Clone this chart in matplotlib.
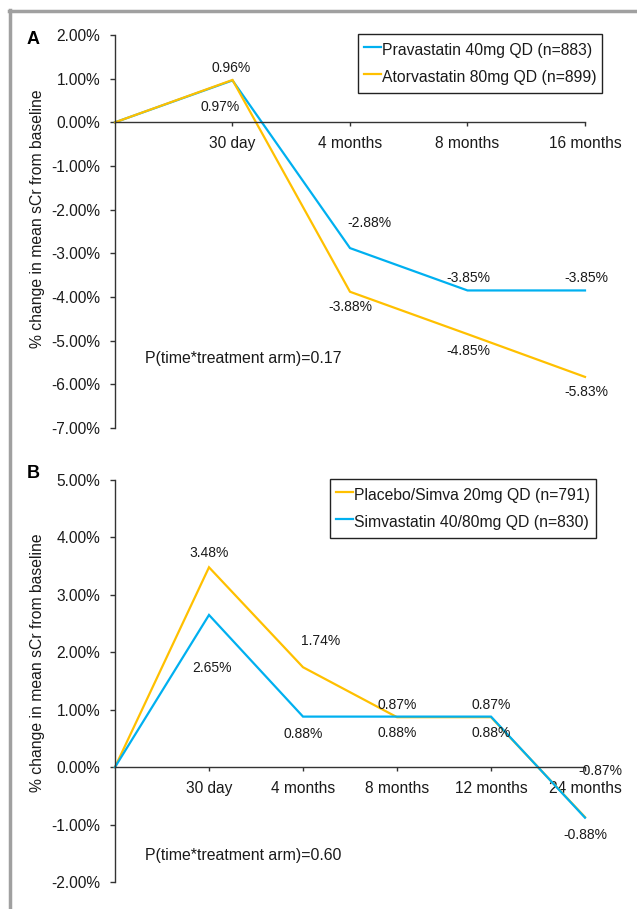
import matplotlib
matplotlib.use("Agg")
import matplotlib.pyplot as plt
from matplotlib.lines import Line2D
from matplotlib.ticker import FuncFormatter

plt.rcParams['font.family'] = ['Liberation Sans', 'DejaVu Sans']

# ---- data -------------------------------------------------------------
a_times = ["", "30 day", "4 months", "8 months", "16 months"]
a_prava = [0.0, 0.96, -2.88, -3.85, -3.85]
a_atorva = [0.0, 0.97, -3.88, -4.85, -5.83]
a_names = ["Pravastatin 40mg QD (n=883)", "Atorvastatin 80mg QD (n=899)"]
a_pvalue = "P(time*treatment arm)=0.17"

b_times = ["", "30 day", "4 months", "8 months", "12 months", "24 months"]
b_placebo = [0.0, 3.48, 1.74, 0.87, 0.87, -0.87]
b_simva = [0.0, 2.65, 0.88, 0.88, 0.88, -0.88]
b_names = ["Placebo/Simva 20mg QD (n=791)", "Simvastatin 40/80mg QD (n=830)"]
b_pvalue = "P(time*treatment arm)=0.60"

BLUE = "#00B0F0"
GOLD = "#FFC000"
TXT = "#1a1a1a"
AX = "#333333"

W, H = 637, 909
fig = plt.figure(figsize=(W / 100, H / 100), dpi=100)


def frac_box(left, top, right, bottom):
    return [left / W, 1 - bottom / H, (right - left) / W, (bottom - top) / H]


def style_axes(ax, times, ylo, yhi):
    n = len(times)
    ax.set_xlim(0, n - 1)
    ax.set_ylim(ylo, yhi)
    ax.set_xticks(range(1, n))
    ax.set_xticklabels(times[1:])
    ax.set_yticks(range(ylo, yhi + 1))
    ax.yaxis.set_major_formatter(FuncFormatter(lambda v, p: f"{v:.2f}%"))
    for s in ("top", "right"):
        ax.spines[s].set_visible(False)
    ax.spines["bottom"].set_position(("data", 0))
    for s in ("left", "bottom"):
        ax.spines[s].set_color(AX)
        ax.spines[s].set_linewidth(1.0)
    ax.tick_params(axis="y", direction="out", length=3.6, width=1, color=AX,
                   pad=7, labelsize=11.2, labelcolor=TXT)
    ax.tick_params(axis="x", direction="out", length=3, width=1, color=AX,
                   pad=7, labelsize=11.2, labelcolor=TXT)
    ax.set_facecolor("none")


def label_points(ax, values, offsets):
    for i, (v, off) in enumerate(zip(values, offsets)):
        if off is None:
            continue
        ax.annotate(f"{v:.2f}%", (i, v), xytext=off, textcoords="offset pixels",
                    ha="center", va="center", fontsize=10, color=TXT,
                    annotation_clip=False)


def add_legend(handles, names, left, top):
    leg = fig.legend(handles, names, loc="upper left",
                     bbox_to_anchor=(left / W, 1 - top / H), fontsize=11.3,
                     handlelength=1.12, handleheight=1.6, handletextpad=0.05,
                     labelspacing=0.45, borderpad=0.36, borderaxespad=0,
                     fancybox=False, framealpha=1, edgecolor="#222222")
    leg.get_frame().set_linewidth(1.0)
    for t in leg.get_texts():
        t.set_color(TXT)
    return leg


# ---- panel A ----------------------------------------------------------
axA = fig.add_axes(frac_box(115, 35, 585, 428))
style_axes(axA, a_times, -7, 2)
xa = range(len(a_times))
hA1, = axA.plot(xa, a_prava, color=BLUE, lw=1.6, clip_on=False,
                solid_joinstyle="miter")
hA2, = axA.plot(xa, a_atorva, color=GOLD, lw=1.6, clip_on=False,
                solid_joinstyle="miter")
label_points(axA, a_prava, [None, (-1, 12), (19, 25), (1, 12), (1, 12)])
label_points(axA, a_atorva, [None, (-12, -27), (0, -15), (1, -17), (1, -15)])
axA.text(0.064, 0.178, a_pvalue, transform=axA.transAxes, fontsize=11.4,
         color=TXT, ha="left", va="center")
add_legend([hA1, hA2], a_names, 358, 34)

# ---- panel B ----------------------------------------------------------
axB = fig.add_axes(frac_box(115, 480, 585, 882))
style_axes(axB, b_times, -2, 5)
xb = range(len(b_times))
hB1, = axB.plot(xb, b_placebo, color=GOLD, lw=1.6, clip_on=False,
                solid_joinstyle="miter")
hB2, = axB.plot(xb, b_simva, color=BLUE, lw=1.6, clip_on=False,
                solid_joinstyle="miter")
label_points(axB, b_placebo, [None, (0, 14), (18, 26), (0, 12), (0, 12), (15, 46)])
label_points(axB, b_simva, [None, (3, -53), (0, -17), (0, -16), (0, -16), (0, -17)])
axB.text(0.064, 0.065, b_pvalue, transform=axB.transAxes, fontsize=11.4,
         color=TXT, ha="left", va="center")
add_legend([hB1, hB2], b_names, 330, 479)

# ---- figure text and frame --------------------------------------------
ylab = "% change in mean sCr from baseline"
fig.text(38 / W, 1 - 219 / H, ylab, rotation=90, ha="center", va="center",
         fontsize=11.3, color=TXT)
fig.text(38 / W, 1 - 663 / H, ylab, rotation=90, ha="center", va="center",
         fontsize=11.3, color=TXT)
fig.text(33 / W, 1 - 39 / H, "A", ha="center", va="center", fontsize=13,
         fontweight="bold", color="black")
fig.text(33 / W, 1 - 474 / H, "B", ha="center", va="center", fontsize=13,
         fontweight="bold", color="black")

fig.add_artist(Line2D([8.5 / W, 1], [1 - 11 / H, 1 - 11 / H], color="#a0a0a0",
                      lw=2.5, transform=fig.transFigure))
fig.add_artist(Line2D([9.5 / W, 9.5 / W], [0, 1 - 10 / H], color="#a0a0a0",
                      lw=2.5, transform=fig.transFigure))

fig.savefig("out.png", dpi=100)
